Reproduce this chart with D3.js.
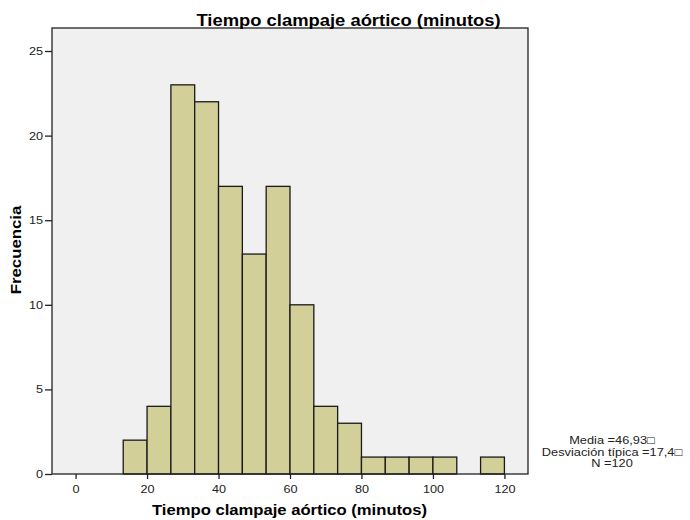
<!DOCTYPE html>
<html>
<head>
<meta charset="utf-8">
<script src="https://cdn.jsdelivr.net/npm/d3@7"></script>
<style>
  body { margin: 0; background: #fff; }
  text { font-family: "Liberation Sans", Arial, sans-serif; }
</style>
</head>
<body>
<div id="chart"></div>
<script>
    // Histogram bins (minutes), width 20/3
    var binStart = [13.33, 20, 26.67, 33.33, 40, 46.67, 53.33, 60, 66.67, 73.33, 80, 86.67, 93.33, 100, 106.67, 113.33]
    var binEnd   = [20, 26.67, 33.33, 40, 46.67, 53.33, 60, 66.67, 73.33, 80, 86.67, 93.33, 100, 106.67, 113.33, 120]
    var counts   = [2, 4, 23, 22, 17, 13, 17, 10, 4, 3, 1, 1, 1, 1, 0, 1]

    var xTicks = [0, 20, 40, 60, 80, 100, 120]
    var yTicks = [0, 5, 10, 15, 20, 25]

    var statsLines = ['Media =46,93\u25A1', 'Desviaci\u00f3n t\u00edpica =17,4\u25A1', 'N =120']

    var svg = d3.select('#chart').append('svg')
        .attr('width', 690)
        .attr('height', 520)

    // plot area (don't use "top" -> window.top)
    var pLeft = 52, pRight = 528, pTop = 28, pBottom = 474

    // the SPSS text is a bit wider than plain Arial
    var stretch = 1.15

    var x = d3.scaleLinear()
        .domain([-6.6, 126.6])
        .range([pLeft, pRight])

    var y = d3.scaleLinear()
        .domain([0, 26.36])
        .range([pBottom, pTop])

    // plot background
    svg.append('rect')
        .attr('x', pLeft).attr('y', pTop)
        .attr('width', pRight - pLeft).attr('height', pBottom - pTop)
        .style('fill', '#f0f0f0')

    var bars = counts.map(function(c, i) {
        return { x0: binStart[i], x1: binEnd[i], n: c }
    }).filter(function(d) { return d.n > 0 })

    // bars
    svg.selectAll('rect.bar')
        .data(bars)
        .enter()
        .append('rect')
        .attr('class', 'bar')
        .attr('x', function(d) { return x(d.x0) })
        .attr('width', function(d) { return x(d.x1) - x(d.x0) })
        .attr('y', function(d) { return y(d.n) })
        .attr('height', function(d) { return y(0) - y(d.n) })
        .style('fill', '#d3cf98')
        .style('stroke', '#1a1a1a')
        .style('stroke-width', 1.3)

    // frame
    svg.append('rect')
        .attr('x', pLeft).attr('y', pTop)
        .attr('width', pRight - pLeft).attr('height', pBottom - pTop)
        .style('fill', 'none')
        .style('stroke', '#222')
        .style('stroke-width', 1.3)

    // axes
    var yAxis = d3.axisLeft(y).tickValues(yTicks).tickSize(7).tickSizeOuter(0)
    var gy = svg.append('g').attr('transform', 'translate(' + pLeft + ',0)').call(yAxis)
    gy.select('.domain').remove()
    gy.selectAll('line').style('stroke', '#222').style('stroke-width', 1.3)
    gy.selectAll('text').style('font-size', '11px').style('fill', '#222')
        .attr('x', 0)
        .attr('transform', 'translate(-9,0) scale(' + stretch + ',1)')

    var xAxis = d3.axisBottom(x).tickValues(xTicks).tickSize(5).tickSizeOuter(0)
    var gx = svg.append('g').attr('transform', 'translate(0,' + pBottom + ')').call(xAxis)
    gx.select('.domain').remove()
    gx.selectAll('line').style('stroke', '#222').style('stroke-width', 1.3)
    gx.selectAll('text').style('font-size', '11px').style('fill', '#222')
        .attr('y', 0)
        .attr('transform', 'translate(0,11) scale(' + stretch + ',1)')

    // titles
    svg.append('text')
        .attr('transform', 'translate(348.5,26) scale(1.15,1)')
        .attr('text-anchor', 'middle')
        .style('font-size', '16px').style('font-weight', 'bold')
        .text('Tiempo clampaje a\u00f3rtico (minutos)')

    svg.append('text')
        .attr('transform', 'translate(289.5,515) scale(1.11,1)')
        .attr('text-anchor', 'middle')
        .style('font-size', '15px').style('font-weight', 'bold')
        .text('Tiempo clampaje a\u00f3rtico (minutos)')

    svg.append('text')
        .attr('transform', 'translate(21,250) rotate(-90) scale(1.12,1)')
        .attr('text-anchor', 'middle')
        .style('font-size', '15px').style('font-weight', 'bold')
        .text('Frecuencia')

    // summary stats
    svg.selectAll('text.stat')
        .data(statsLines)
        .enter()
        .append('text')
        .attr('class', 'stat')
        .attr('transform', function(d, i) { return 'translate(612,' + (444 + i * 11.5) + ') scale(1.22,1)' })
        .attr('text-anchor', 'middle')
        .style('font-size', '10.5px')
        .style('fill', '#222')
        .text(function(d) { return d })
</script>
</body>
</html>
